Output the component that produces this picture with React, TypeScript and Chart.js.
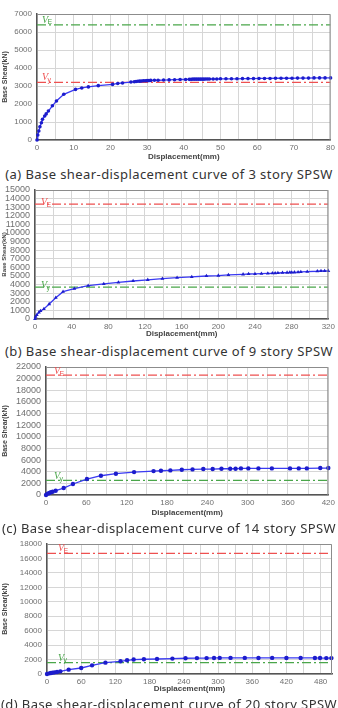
import React, { useEffect, useRef } from 'react';
import { Chart, registerables } from 'chart.js';

Chart.register(...registerables);

// ---------- (a) 3 story SPSW ----------
const dispA = [0, 0.2, 0.5, 0.8, 1.2, 1.5, 2.1, 2.5, 3.1, 4.2, 5.3, 7.3, 10.5, 12.2, 14, 16.7, 20.6, 22, 23.3, 25.6, 26.5, 27, 27.5, 28, 28.5, 29, 29.5, 30, 30.5, 31, 32, 33, 34.5, 36, 37.5, 39, 40.5, 41.5, 42, 42.5, 43, 43.5, 44, 44.5, 45, 45.5, 46, 46.5, 47, 48, 49, 50, 51.5, 53, 54.5, 56, 57.5, 59, 60.5, 62, 63.5, 65, 66.5, 68, 69.5, 71, 72.5, 74, 75.5, 77, 78.5, 80];
const shearA = [0, 280, 500, 740, 960, 1150, 1330, 1450, 1610, 1900, 2170, 2540, 2810, 2890, 2950, 3020, 3090, 3140, 3170, 3220, 3240, 3250, 3260, 3270, 3280, 3290, 3290, 3300, 3300, 3310, 3320, 3320, 3330, 3340, 3350, 3360, 3360, 3370, 3370, 3380, 3380, 3380, 3380, 3380, 3380, 3380, 3390, 3390, 3390, 3390, 3390, 3400, 3400, 3400, 3400, 3410, 3410, 3410, 3420, 3420, 3420, 3430, 3430, 3430, 3430, 3440, 3440, 3440, 3450, 3450, 3450, 3450];
const xLabelsA = [0, 10, 20, 30, 40, 50, 60, 70, 80];
const yLabelsA = [0, 1000, 2000, 3000, 4000, 5000, 6000, 7000];
const refValuesA = [6400, 3200];
const refNamesA = ['E', 'y'];

// ---------- (b) 9 story SPSW ----------
const dispB = [0, 0.7, 2, 4.3, 6, 9.7, 15.5, 22.7, 30.6, 42.9, 58, 75, 91, 107, 123, 139, 155, 171, 187, 200, 211, 227, 233, 240, 247, 254, 259, 262, 265, 270, 275, 278, 280, 283, 287, 290, 297, 308, 312, 316, 320];
const shearB = [0, 270, 480, 780, 930, 1160, 1740, 2480, 3180, 3520, 3870, 4080, 4250, 4420, 4560, 4690, 4810, 4900, 5000, 5050, 5120, 5200, 5230, 5250, 5280, 5310, 5320, 5340, 5350, 5380, 5400, 5410, 5420, 5430, 5450, 5470, 5500, 5550, 5580, 5600, 5600];
const xLabelsB = [0, 40, 80, 120, 160, 200, 240, 280, 320];
const yLabelsB = [0, 1000, 2000, 3000, 4000, 5000, 6000, 7000, 8000, 9000, 10000, 11000, 12000, 13000, 14000, 15000];
const refValuesB = [13350, 3700];
const refNamesB = ['E', 'y'];

// ---------- (c) 14 story SPSW ----------
const dispC = [0, 2.5, 5, 7.4, 9.9, 14.4, 26.3, 40.1, 60.9, 81.7, 104, 131, 160, 171, 185, 202, 218, 234, 248, 261, 274, 282, 290, 301, 316, 336, 363, 376, 388, 408, 420];
const shearC = [0, 230, 340, 460, 570, 740, 1200, 1890, 2740, 3310, 3660, 3940, 4110, 4170, 4230, 4340, 4400, 4460, 4460, 4510, 4510, 4510, 4570, 4570, 4570, 4570, 4570, 4570, 4570, 4630, 4630];
const xLabelsC = [0, 60, 120, 180, 240, 300, 360, 420];
const yLabelsC = [0, 2000, 4000, 6000, 8000, 10000, 12000, 14000, 16000, 18000, 20000, 22000];
const refValuesC = [20600, 2500];
const refNamesC = ['E', 'y'];

// ---------- (d) 20 story SPSW ----------
const dispD = [0, 4.1, 7, 10, 13.5, 17.6, 23.4, 38, 60, 79, 102.5, 129, 140.5, 152, 170, 193, 220, 243, 263, 280, 293, 303, 322, 347, 371, 395, 420, 445, 470, 479, 490, 499];
const shearD = [0, 90, 140, 190, 230, 280, 370, 600, 830, 1200, 1570, 1760, 1900, 2000, 2040, 2080, 2130, 2180, 2200, 2200, 2220, 2230, 2230, 2230, 2220, 2230, 2220, 2220, 2220, 2210, 2200, 2200];
const xLabelsD = [0, 60, 120, 180, 240, 300, 360, 420, 480];
const yLabelsD = [0, 2000, 4000, 6000, 8000, 10000, 12000, 14000, 16000, 18000];
const refValuesD = [16700, 1570];
const refNamesD = ['E', 'y'];

const captions = [
  '(a) Base shear-displacement curve of 3 story SPSW',
  '(b) Base shear-displacement curve of 9 story SPSW',
  '(c) Base shear-displacement curve of 14 story SPSW',
  '(d) Base shear-displacement curve of 20 story SPSW',
];

const RED = '#ee5050';
const GREEN = '#4aa64a';

type PanelProps = {
  top: number; height: number;
  padTop: number; yAxisW: number; padRight: number; xAxisH: number;
  xs: number[]; ys: number[];
  xMax: number; xGrid: number; xLabels: number[];
  yMax: number; yStep: number; yLabels: number[];
  refValues: number[]; refNames: string[]; refColors: string[];
  pointStyle: string; pointRadius: number;
  yTickSize: number; yTitleSize: number;
  labelX: number; labelDy: number;
};

const near = (arr: number[], v: number) => arr.some((a) => Math.abs(a - v) < 1e-6);

function Panel(p: PanelProps) {
  const ref = useRef<HTMLCanvasElement>(null);
  useEffect(() => {
    const canvas = ref.current!;
    const datasets: any[] = [{
      data: p.xs.map((x, i) => ({ x, y: p.ys[i] })),
      borderColor: '#3a3af2',
      backgroundColor: '#1c1ccc',
      borderWidth: 1.3,
      pointRadius: p.pointRadius,
      pointStyle: p.pointStyle,
      pointBorderWidth: 0,
      pointBackgroundColor: '#1c1ccc',
      tension: 0,
      clip: false,
      order: 0,
    }];
    p.refValues.forEach((v, i) => datasets.push({
      data: [{ x: 0, y: v }, { x: p.xMax, y: v }],
      borderColor: p.refColors[i],
      borderWidth: 1.2,
      borderDash: [9, 3, 2, 3],
      pointRadius: 0,
      order: 1,
    }));
    const deco = {
      id: 'deco',
      afterDraw(chart: any) {
        const { ctx, chartArea: a, scales } = chart;
        ctx.save();
        ctx.strokeStyle = '#8c8c8c';
        ctx.lineWidth = 1;
        ctx.beginPath();
        ctx.moveTo(a.left, a.top + 0.5);
        ctx.lineTo(a.right - 0.5, a.top + 0.5);
        ctx.lineTo(a.right - 0.5, a.bottom);
        ctx.stroke();
        p.refValues.forEach((v, i) => {
          const y = scales.y.getPixelForValue(v);
          const x = a.left + p.labelX;
          ctx.fillStyle = p.refColors[i];
          ctx.textBaseline = 'alphabetic';
          ctx.textAlign = 'left';
          ctx.font = 'italic 10px "Liberation Serif"';
          ctx.fillText('V', x, y + p.labelDy);
          const w = ctx.measureText('V').width;
          ctx.font = '7px "Liberation Sans"';
          ctx.fillText(p.refNames[i], x + w - 0.5, y + p.labelDy + 1.5);
        });
        ctx.restore();
      },
    };
    const chart = new Chart(canvas, {
      type: 'line',
      data: { datasets },
      options: {
        animation: false,
        responsive: false,
        maintainAspectRatio: false,
        layout: { padding: { top: p.padTop, left: 0, right: p.padRight, bottom: 0 } },
        plugins: { legend: { display: false }, tooltip: { enabled: false } },
        scales: {
          x: {
            type: 'linear', min: 0, max: p.xMax,
            ticks: {
              stepSize: p.xGrid, includeBounds: false, autoSkip: false, maxRotation: 0, minRotation: 0,
              padding: 3, color: '#707070',
              font: { family: 'Liberation Sans', size: 8 },
              callback: (v: any) => (near(p.xLabels, Number(v)) ? String(v) : ''),
            },
            grid: { color: '#d6d6d6', drawTicks: false, lineWidth: 1 },
            border: { color: '#555', width: 1.5 },
            title: {
              display: true, text: 'Displacement(mm)', color: '#444',
              font: { family: 'Liberation Sans', size: 8, weight: 'bold' },
              padding: { top: 0, bottom: 3 },
            },
            afterFit: (s: any) => { s.height = p.xAxisH; },
          },
          y: {
            type: 'linear', min: 0, max: p.yMax,
            ticks: {
              stepSize: p.yStep, autoSkip: false, padding: 5, color: '#707070',
              font: { family: 'Liberation Sans', size: p.yTickSize },
              callback: (v: any) => (near(p.yLabels, Number(v)) ? String(v) : ''),
            },
            grid: { color: '#d6d6d6', drawTicks: false, lineWidth: 1 },
            border: { color: '#555', width: 1.5 },
            title: {
              display: true, text: 'Base Shear(kN)', color: '#444',
              font: { family: 'Liberation Sans', size: p.yTitleSize, weight: 'bold' },
              padding: { top: 1, bottom: 0 },
            },
            afterFit: (s: any) => { s.width = p.yAxisW; },
          },
        },
      } as any,
      plugins: [deco],
    });
    return () => chart.destroy();
  }, []);
  return (
    <canvas
      ref={ref}
      width={338}
      height={p.height}
      style={{ position: 'absolute', left: 0, top: p.top, width: 338, height: p.height }}
    />
  );
}

function Caption({ text, center }: { text: string; center: number }) {
  return (
    <div
      style={{
        position: 'absolute', left: 0, top: center - 9, width: 338, height: 18,
        lineHeight: '18px', textAlign: 'center', whiteSpace: 'nowrap',
        fontFamily: '"Noto Sans", sans-serif', fontSize: 13, color: '#333',
        letterSpacing: '0.42px',
      }}
    >
      {text}
    </div>
  );
}

export default function App() {
  return (
    <div style={{ position: 'absolute', left: 0, top: 0, width: 338, height: 708, overflow: 'hidden', background: '#fff' }}>
      <Panel
        top={0} height={165} padTop={14} yAxisW={37} padRight={5} xAxisH={25}
        xs={dispA} ys={shearA} xMax={80} xGrid={5} xLabels={xLabelsA}
        yMax={7000} yStep={1000} yLabels={yLabelsA}
        refValues={refValuesA} refNames={refNamesA} refColors={[GREEN, RED]}
        pointStyle="circle" pointRadius={1.8} yTickSize={8} yTitleSize={7}
        labelX={5} labelDy={-2}
      />
      <Caption text={captions[0]} center={174} />
      <Panel
        top={178} height={164} padTop={12} yAxisW={35} padRight={7} xAxisH={23}
        xs={dispB} ys={shearB} xMax={320} xGrid={20} xLabels={xLabelsB}
        yMax={15000} yStep={1000} yLabels={yLabelsB}
        refValues={refValuesB} refNames={refNamesB} refColors={[RED, GREEN]}
        pointStyle="triangle" pointRadius={2.2} yTickSize={9} yTitleSize={6}
        labelX={6} labelDy={1}
      />
      <Caption text={captions[1]} center={351} />
      <Panel
        top={355} height={166} padTop={12} yAxisW={46} padRight={9} xAxisH={26}
        xs={dispC} ys={shearC} xMax={420} xGrid={30} xLabels={xLabelsC}
        yMax={22000} yStep={2000} yLabels={yLabelsC}
        refValues={refValuesC} refNames={refNamesC} refColors={[RED, GREEN]}
        pointStyle="circle" pointRadius={2.2} yTickSize={9} yTitleSize={7}
        labelX={8} labelDy={-1}
      />
      <Caption text={captions[2]} center={528} />
      <Panel
        top={534} height={163} padTop={10} yAxisW={47} padRight={6} xAxisH={23}
        xs={dispD} ys={shearD} xMax={500} xGrid={30} xLabels={xLabelsD}
        yMax={18000} yStep={2000} yLabels={yLabelsD}
        refValues={refValuesD} refNames={refNamesD} refColors={[RED, GREEN]}
        pointStyle="circle" pointRadius={2.2} yTickSize={8} yTitleSize={7}
        labelX={11} labelDy={-2}
      />
      <Caption text={captions[3]} center={704} />
    </div>
  );
}
